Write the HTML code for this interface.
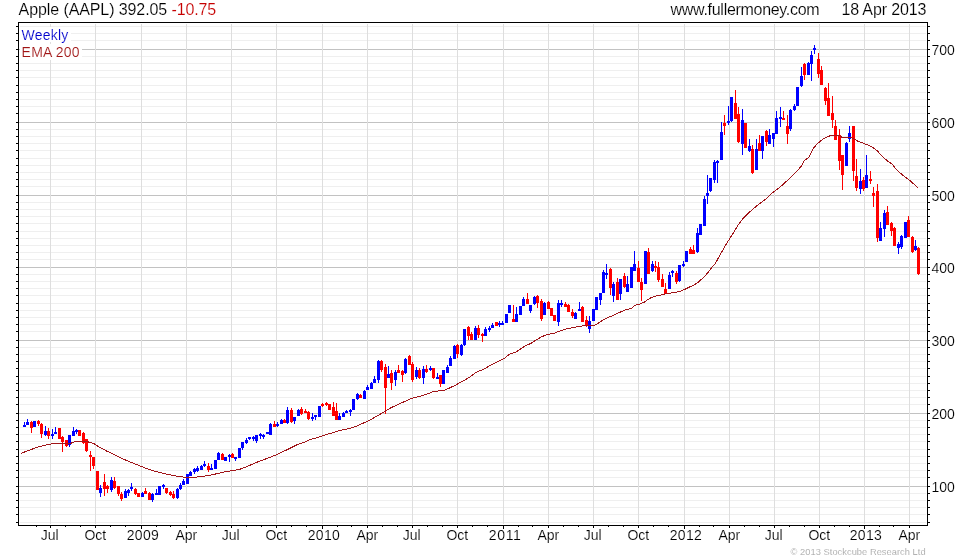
<!DOCTYPE html>
<html lang="en"><head><meta charset="utf-8"><title>Apple (AAPL) Weekly</title>
<style>html,body{margin:0;padding:0;background:#fff}body{width:980px;height:560px;overflow:hidden}svg{display:block;will-change:transform}text{font-family:"Liberation Sans",Arial,sans-serif;stroke:#fff;stroke-width:0.15px}</style>
</head><body>
<svg width="980" height="560" viewBox="0 0 980 560">
<rect width="980" height="560" fill="#fff"/>
<g shape-rendering="crispEdges">
<rect x="20" y="26" width="906" height="1" fill="#efefef"/>
<rect x="20" y="33" width="906" height="1" fill="#efefef"/>
<rect x="20" y="40" width="906" height="1" fill="#efefef"/>
<rect x="20" y="56" width="906" height="1" fill="#efefef"/>
<rect x="20" y="63" width="906" height="1" fill="#efefef"/>
<rect x="20" y="70" width="906" height="1" fill="#efefef"/>
<rect x="20" y="77" width="906" height="1" fill="#efefef"/>
<rect x="20" y="85" width="906" height="1" fill="#efefef"/>
<rect x="20" y="92" width="906" height="1" fill="#efefef"/>
<rect x="20" y="99" width="906" height="1" fill="#efefef"/>
<rect x="20" y="106" width="906" height="1" fill="#efefef"/>
<rect x="20" y="113" width="906" height="1" fill="#efefef"/>
<rect x="20" y="129" width="906" height="1" fill="#efefef"/>
<rect x="20" y="136" width="906" height="1" fill="#efefef"/>
<rect x="20" y="143" width="906" height="1" fill="#efefef"/>
<rect x="20" y="150" width="906" height="1" fill="#efefef"/>
<rect x="20" y="158" width="906" height="1" fill="#efefef"/>
<rect x="20" y="165" width="906" height="1" fill="#efefef"/>
<rect x="20" y="172" width="906" height="1" fill="#efefef"/>
<rect x="20" y="179" width="906" height="1" fill="#efefef"/>
<rect x="20" y="186" width="906" height="1" fill="#efefef"/>
<rect x="20" y="202" width="906" height="1" fill="#efefef"/>
<rect x="20" y="209" width="906" height="1" fill="#efefef"/>
<rect x="20" y="216" width="906" height="1" fill="#efefef"/>
<rect x="20" y="223" width="906" height="1" fill="#efefef"/>
<rect x="20" y="231" width="906" height="1" fill="#efefef"/>
<rect x="20" y="238" width="906" height="1" fill="#efefef"/>
<rect x="20" y="245" width="906" height="1" fill="#efefef"/>
<rect x="20" y="252" width="906" height="1" fill="#efefef"/>
<rect x="20" y="259" width="906" height="1" fill="#efefef"/>
<rect x="20" y="274" width="906" height="1" fill="#efefef"/>
<rect x="20" y="281" width="906" height="1" fill="#efefef"/>
<rect x="20" y="288" width="906" height="1" fill="#efefef"/>
<rect x="20" y="295" width="906" height="1" fill="#efefef"/>
<rect x="20" y="303" width="906" height="1" fill="#efefef"/>
<rect x="20" y="310" width="906" height="1" fill="#efefef"/>
<rect x="20" y="317" width="906" height="1" fill="#efefef"/>
<rect x="20" y="324" width="906" height="1" fill="#efefef"/>
<rect x="20" y="331" width="906" height="1" fill="#efefef"/>
<rect x="20" y="347" width="906" height="1" fill="#efefef"/>
<rect x="20" y="354" width="906" height="1" fill="#efefef"/>
<rect x="20" y="361" width="906" height="1" fill="#efefef"/>
<rect x="20" y="368" width="906" height="1" fill="#efefef"/>
<rect x="20" y="376" width="906" height="1" fill="#efefef"/>
<rect x="20" y="383" width="906" height="1" fill="#efefef"/>
<rect x="20" y="390" width="906" height="1" fill="#efefef"/>
<rect x="20" y="397" width="906" height="1" fill="#efefef"/>
<rect x="20" y="404" width="906" height="1" fill="#efefef"/>
<rect x="20" y="420" width="906" height="1" fill="#efefef"/>
<rect x="20" y="427" width="906" height="1" fill="#efefef"/>
<rect x="20" y="434" width="906" height="1" fill="#efefef"/>
<rect x="20" y="441" width="906" height="1" fill="#efefef"/>
<rect x="20" y="449" width="906" height="1" fill="#efefef"/>
<rect x="20" y="456" width="906" height="1" fill="#efefef"/>
<rect x="20" y="463" width="906" height="1" fill="#efefef"/>
<rect x="20" y="470" width="906" height="1" fill="#efefef"/>
<rect x="20" y="477" width="906" height="1" fill="#efefef"/>
<rect x="20" y="493" width="906" height="1" fill="#efefef"/>
<rect x="20" y="500" width="906" height="1" fill="#efefef"/>
<rect x="20" y="507" width="906" height="1" fill="#efefef"/>
<rect x="20" y="514" width="906" height="1" fill="#efefef"/>
<rect x="20" y="522" width="906" height="1" fill="#efefef"/>
<rect x="19" y="49" width="908" height="1" fill="#c2c2c2"/>
<rect x="19" y="122" width="908" height="1" fill="#c2c2c2"/>
<rect x="19" y="195" width="908" height="1" fill="#c2c2c2"/>
<rect x="19" y="267" width="908" height="1" fill="#c2c2c2"/>
<rect x="19" y="340" width="908" height="1" fill="#c2c2c2"/>
<rect x="19" y="413" width="908" height="1" fill="#c2c2c2"/>
<rect x="19" y="486" width="908" height="1" fill="#c2c2c2"/>
<rect x="50" y="24" width="1" height="500" fill="#dedede"/>
<rect x="95" y="24" width="1" height="500" fill="#dedede"/>
<rect x="141" y="24" width="1" height="500" fill="#dedede"/>
<rect x="186" y="24" width="1" height="500" fill="#dedede"/>
<rect x="231" y="24" width="1" height="500" fill="#dedede"/>
<rect x="276" y="24" width="1" height="500" fill="#dedede"/>
<rect x="322" y="24" width="1" height="500" fill="#dedede"/>
<rect x="367" y="24" width="1" height="500" fill="#dedede"/>
<rect x="412" y="24" width="1" height="500" fill="#dedede"/>
<rect x="457" y="24" width="1" height="500" fill="#dedede"/>
<rect x="503" y="24" width="1" height="500" fill="#dedede"/>
<rect x="548" y="24" width="1" height="500" fill="#dedede"/>
<rect x="593" y="24" width="1" height="500" fill="#dedede"/>
<rect x="638" y="24" width="1" height="500" fill="#dedede"/>
<rect x="684" y="24" width="1" height="500" fill="#dedede"/>
<rect x="729" y="24" width="1" height="500" fill="#dedede"/>
<rect x="774" y="24" width="1" height="500" fill="#dedede"/>
<rect x="819" y="24" width="1" height="500" fill="#dedede"/>
<rect x="864" y="24" width="1" height="500" fill="#dedede"/>
<rect x="909" y="24" width="1" height="500" fill="#dedede"/>
<rect x="20" y="27" width="51" height="15" fill="#fff"/>
<rect x="20" y="44" width="62" height="16" fill="#fff"/>
</g>
<g shape-rendering="crispEdges">
<rect x="24" y="422" width="1" height="5" fill="#0000ff"/>
<rect x="23" y="425" width="3" height="2" fill="#0000ff"/>
<rect x="27" y="419" width="1" height="6" fill="#0000ff"/>
<rect x="26" y="422" width="3" height="3" fill="#0000ff"/>
<rect x="31" y="421" width="1" height="12" fill="#ff0000"/>
<rect x="30" y="422" width="3" height="6" fill="#ff0000"/>
<rect x="33" y="421" width="3" height="6" fill="#0000ff"/>
<rect x="38" y="420" width="1" height="6" fill="#ff0000"/>
<rect x="37" y="421" width="3" height="3" fill="#ff0000"/>
<rect x="41" y="423" width="1" height="15" fill="#ff0000"/>
<rect x="40" y="424" width="3" height="10" fill="#ff0000"/>
<rect x="45" y="426" width="1" height="10" fill="#0000ff"/>
<rect x="44" y="431" width="3" height="4" fill="#0000ff"/>
<rect x="48" y="428" width="1" height="11" fill="#ff0000"/>
<rect x="47" y="431" width="3" height="5" fill="#ff0000"/>
<rect x="52" y="429" width="1" height="10" fill="#0000ff"/>
<rect x="51" y="434" width="3" height="2" fill="#0000ff"/>
<rect x="55" y="427" width="1" height="7" fill="#0000ff"/>
<rect x="54" y="432" width="3" height="2" fill="#0000ff"/>
<rect x="58" y="428" width="3" height="11" fill="#ff0000"/>
<rect x="62" y="436" width="1" height="16" fill="#ff0000"/>
<rect x="61" y="437" width="3" height="5" fill="#ff0000"/>
<rect x="66" y="440" width="1" height="7" fill="#ff0000"/>
<rect x="65" y="440" width="3" height="6" fill="#ff0000"/>
<rect x="69" y="435" width="1" height="12" fill="#0000ff"/>
<rect x="68" y="435" width="3" height="10" fill="#0000ff"/>
<rect x="73" y="427" width="1" height="9" fill="#0000ff"/>
<rect x="72" y="431" width="3" height="5" fill="#0000ff"/>
<rect x="76" y="429" width="1" height="5" fill="#0000ff"/>
<rect x="75" y="430" width="3" height="2" fill="#0000ff"/>
<rect x="78" y="430" width="3" height="6" fill="#ff0000"/>
<rect x="83" y="432" width="1" height="12" fill="#ff0000"/>
<rect x="82" y="433" width="3" height="10" fill="#ff0000"/>
<rect x="86" y="439" width="1" height="13" fill="#ff0000"/>
<rect x="85" y="439" width="3" height="12" fill="#ff0000"/>
<rect x="90" y="451" width="1" height="20" fill="#ff0000"/>
<rect x="89" y="455" width="3" height="2" fill="#ff0000"/>
<rect x="93" y="457" width="1" height="12" fill="#ff0000"/>
<rect x="92" y="457" width="3" height="9" fill="#ff0000"/>
<rect x="96" y="471" width="3" height="19" fill="#ff0000"/>
<rect x="100" y="485" width="1" height="12" fill="#0000ff"/>
<rect x="99" y="488" width="3" height="5" fill="#0000ff"/>
<rect x="104" y="474" width="1" height="22" fill="#ff0000"/>
<rect x="103" y="482" width="3" height="7" fill="#ff0000"/>
<rect x="107" y="485" width="1" height="8" fill="#ff0000"/>
<rect x="106" y="486" width="3" height="3" fill="#ff0000"/>
<rect x="111" y="477" width="1" height="15" fill="#0000ff"/>
<rect x="110" y="480" width="3" height="10" fill="#0000ff"/>
<rect x="114" y="477" width="1" height="12" fill="#ff0000"/>
<rect x="113" y="481" width="3" height="7" fill="#ff0000"/>
<rect x="118" y="486" width="1" height="10" fill="#ff0000"/>
<rect x="117" y="486" width="3" height="8" fill="#ff0000"/>
<rect x="121" y="492" width="1" height="9" fill="#ff0000"/>
<rect x="120" y="494" width="3" height="5" fill="#ff0000"/>
<rect x="125" y="489" width="1" height="9" fill="#0000ff"/>
<rect x="124" y="491" width="3" height="7" fill="#0000ff"/>
<rect x="128" y="489" width="1" height="7" fill="#0000ff"/>
<rect x="127" y="490" width="3" height="3" fill="#0000ff"/>
<rect x="131" y="483" width="1" height="8" fill="#0000ff"/>
<rect x="130" y="487" width="3" height="2" fill="#0000ff"/>
<rect x="135" y="488" width="1" height="7" fill="#ff0000"/>
<rect x="134" y="489" width="3" height="5" fill="#ff0000"/>
<rect x="137" y="493" width="3" height="4" fill="#ff0000"/>
<rect x="142" y="492" width="1" height="5" fill="#0000ff"/>
<rect x="141" y="493" width="3" height="4" fill="#0000ff"/>
<rect x="145" y="488" width="1" height="6" fill="#ff0000"/>
<rect x="144" y="491" width="3" height="3" fill="#ff0000"/>
<rect x="149" y="492" width="1" height="8" fill="#ff0000"/>
<rect x="148" y="493" width="3" height="7" fill="#ff0000"/>
<rect x="152" y="493" width="1" height="9" fill="#0000ff"/>
<rect x="151" y="494" width="3" height="6" fill="#0000ff"/>
<rect x="156" y="489" width="1" height="6" fill="#0000ff"/>
<rect x="155" y="493" width="3" height="2" fill="#0000ff"/>
<rect x="158" y="486" width="3" height="9" fill="#0000ff"/>
<rect x="163" y="484" width="1" height="5" fill="#0000ff"/>
<rect x="162" y="485" width="3" height="2" fill="#0000ff"/>
<rect x="166" y="488" width="1" height="6" fill="#ff0000"/>
<rect x="165" y="488" width="3" height="5" fill="#ff0000"/>
<rect x="170" y="491" width="1" height="5" fill="#ff0000"/>
<rect x="169" y="492" width="3" height="3" fill="#ff0000"/>
<rect x="173" y="491" width="1" height="8" fill="#ff0000"/>
<rect x="172" y="494" width="3" height="4" fill="#ff0000"/>
<rect x="177" y="488" width="1" height="11" fill="#0000ff"/>
<rect x="176" y="489" width="3" height="9" fill="#0000ff"/>
<rect x="180" y="483" width="1" height="7" fill="#0000ff"/>
<rect x="179" y="485" width="3" height="4" fill="#0000ff"/>
<rect x="183" y="479" width="1" height="6" fill="#0000ff"/>
<rect x="182" y="481" width="3" height="4" fill="#0000ff"/>
<rect x="186" y="474" width="3" height="10" fill="#0000ff"/>
<rect x="190" y="471" width="1" height="5" fill="#0000ff"/>
<rect x="189" y="472" width="3" height="4" fill="#0000ff"/>
<rect x="194" y="468" width="1" height="6" fill="#0000ff"/>
<rect x="193" y="469" width="3" height="3" fill="#0000ff"/>
<rect x="197" y="466" width="1" height="6" fill="#0000ff"/>
<rect x="196" y="468" width="3" height="3" fill="#0000ff"/>
<rect x="201" y="465" width="1" height="5" fill="#0000ff"/>
<rect x="200" y="466" width="3" height="4" fill="#0000ff"/>
<rect x="204" y="461" width="1" height="6" fill="#0000ff"/>
<rect x="203" y="464" width="3" height="2" fill="#0000ff"/>
<rect x="208" y="463" width="1" height="9" fill="#ff0000"/>
<rect x="207" y="466" width="3" height="4" fill="#ff0000"/>
<rect x="211" y="464" width="1" height="6" fill="#0000ff"/>
<rect x="210" y="468" width="3" height="2" fill="#0000ff"/>
<rect x="214" y="460" width="3" height="9" fill="#0000ff"/>
<rect x="218" y="452" width="1" height="8" fill="#0000ff"/>
<rect x="217" y="453" width="3" height="7" fill="#0000ff"/>
<rect x="222" y="453" width="1" height="7" fill="#ff0000"/>
<rect x="221" y="454" width="3" height="6" fill="#ff0000"/>
<rect x="224" y="457" width="3" height="4" fill="#0000ff"/>
<rect x="229" y="454" width="1" height="8" fill="#0000ff"/>
<rect x="228" y="455" width="3" height="2" fill="#0000ff"/>
<rect x="232" y="453" width="1" height="5" fill="#ff0000"/>
<rect x="231" y="454" width="3" height="4" fill="#ff0000"/>
<rect x="235" y="457" width="1" height="4" fill="#0000ff"/>
<rect x="234" y="457" width="3" height="2" fill="#0000ff"/>
<rect x="238" y="448" width="3" height="10" fill="#0000ff"/>
<rect x="242" y="442" width="1" height="8" fill="#0000ff"/>
<rect x="241" y="442" width="3" height="6" fill="#0000ff"/>
<rect x="246" y="438" width="1" height="6" fill="#0000ff"/>
<rect x="245" y="440" width="3" height="3" fill="#0000ff"/>
<rect x="249" y="437" width="1" height="3" fill="#0000ff"/>
<rect x="248" y="437" width="3" height="2" fill="#0000ff"/>
<rect x="253" y="436" width="1" height="5" fill="#0000ff"/>
<rect x="252" y="437" width="3" height="2" fill="#0000ff"/>
<rect x="256" y="435" width="1" height="8" fill="#0000ff"/>
<rect x="255" y="435" width="3" height="6" fill="#0000ff"/>
<rect x="260" y="433" width="1" height="6" fill="#0000ff"/>
<rect x="259" y="434" width="3" height="2" fill="#0000ff"/>
<rect x="263" y="434" width="1" height="5" fill="#0000ff"/>
<rect x="262" y="435" width="3" height="2" fill="#0000ff"/>
<rect x="266" y="432" width="3" height="2" fill="#0000ff"/>
<rect x="270" y="423" width="1" height="12" fill="#0000ff"/>
<rect x="269" y="424" width="3" height="11" fill="#0000ff"/>
<rect x="274" y="421" width="1" height="6" fill="#ff0000"/>
<rect x="273" y="424" width="3" height="3" fill="#ff0000"/>
<rect x="277" y="422" width="1" height="5" fill="#0000ff"/>
<rect x="276" y="424" width="3" height="2" fill="#0000ff"/>
<rect x="281" y="419" width="1" height="5" fill="#0000ff"/>
<rect x="280" y="420" width="3" height="4" fill="#0000ff"/>
<rect x="284" y="419" width="1" height="4" fill="#ff0000"/>
<rect x="283" y="420" width="3" height="3" fill="#ff0000"/>
<rect x="287" y="407" width="1" height="17" fill="#0000ff"/>
<rect x="286" y="410" width="3" height="13" fill="#0000ff"/>
<rect x="291" y="408" width="1" height="15" fill="#ff0000"/>
<rect x="290" y="410" width="3" height="12" fill="#ff0000"/>
<rect x="294" y="417" width="1" height="7" fill="#0000ff"/>
<rect x="293" y="417" width="3" height="4" fill="#0000ff"/>
<rect x="298" y="409" width="1" height="7" fill="#0000ff"/>
<rect x="297" y="410" width="3" height="6" fill="#0000ff"/>
<rect x="301" y="407" width="1" height="8" fill="#ff0000"/>
<rect x="300" y="409" width="3" height="5" fill="#ff0000"/>
<rect x="305" y="409" width="1" height="4" fill="#ff0000"/>
<rect x="304" y="411" width="3" height="2" fill="#ff0000"/>
<rect x="308" y="411" width="1" height="9" fill="#ff0000"/>
<rect x="307" y="412" width="3" height="7" fill="#ff0000"/>
<rect x="312" y="413" width="1" height="8" fill="#0000ff"/>
<rect x="311" y="417" width="3" height="2" fill="#0000ff"/>
<rect x="315" y="415" width="1" height="5" fill="#0000ff"/>
<rect x="314" y="415" width="3" height="2" fill="#0000ff"/>
<rect x="318" y="406" width="3" height="11" fill="#0000ff"/>
<rect x="322" y="403" width="1" height="4" fill="#ff0000"/>
<rect x="321" y="404" width="3" height="2" fill="#ff0000"/>
<rect x="326" y="402" width="1" height="4" fill="#ff0000"/>
<rect x="325" y="403" width="3" height="2" fill="#ff0000"/>
<rect x="328" y="404" width="3" height="6" fill="#ff0000"/>
<rect x="333" y="402" width="1" height="14" fill="#ff0000"/>
<rect x="332" y="407" width="3" height="9" fill="#ff0000"/>
<rect x="336" y="403" width="1" height="17" fill="#ff0000"/>
<rect x="335" y="411" width="3" height="9" fill="#ff0000"/>
<rect x="339" y="413" width="1" height="7" fill="#0000ff"/>
<rect x="338" y="416" width="3" height="4" fill="#0000ff"/>
<rect x="343" y="412" width="1" height="5" fill="#0000ff"/>
<rect x="342" y="413" width="3" height="4" fill="#0000ff"/>
<rect x="346" y="410" width="1" height="3" fill="#0000ff"/>
<rect x="345" y="411" width="3" height="2" fill="#0000ff"/>
<rect x="350" y="409" width="1" height="7" fill="#0000ff"/>
<rect x="349" y="410" width="3" height="2" fill="#0000ff"/>
<rect x="352" y="399" width="3" height="11" fill="#0000ff"/>
<rect x="357" y="393" width="1" height="7" fill="#0000ff"/>
<rect x="356" y="394" width="3" height="5" fill="#0000ff"/>
<rect x="360" y="394" width="1" height="4" fill="#ff0000"/>
<rect x="359" y="395" width="3" height="3" fill="#ff0000"/>
<rect x="364" y="390" width="1" height="9" fill="#0000ff"/>
<rect x="363" y="391" width="3" height="8" fill="#0000ff"/>
<rect x="367" y="385" width="1" height="5" fill="#0000ff"/>
<rect x="366" y="387" width="3" height="3" fill="#0000ff"/>
<rect x="371" y="382" width="1" height="7" fill="#0000ff"/>
<rect x="370" y="383" width="3" height="6" fill="#0000ff"/>
<rect x="374" y="376" width="1" height="7" fill="#0000ff"/>
<rect x="373" y="379" width="3" height="4" fill="#0000ff"/>
<rect x="378" y="360" width="1" height="23" fill="#0000ff"/>
<rect x="377" y="361" width="3" height="19" fill="#0000ff"/>
<rect x="381" y="360" width="1" height="12" fill="#ff0000"/>
<rect x="380" y="361" width="3" height="9" fill="#ff0000"/>
<rect x="385" y="364" width="1" height="50" fill="#ff0000"/>
<rect x="384" y="367" width="3" height="21" fill="#ff0000"/>
<rect x="388" y="366" width="1" height="12" fill="#0000ff"/>
<rect x="387" y="374" width="3" height="4" fill="#0000ff"/>
<rect x="391" y="370" width="1" height="20" fill="#ff0000"/>
<rect x="390" y="373" width="3" height="10" fill="#ff0000"/>
<rect x="395" y="370" width="1" height="16" fill="#0000ff"/>
<rect x="394" y="372" width="3" height="8" fill="#0000ff"/>
<rect x="398" y="365" width="1" height="8" fill="#ff0000"/>
<rect x="397" y="370" width="3" height="3" fill="#ff0000"/>
<rect x="402" y="370" width="1" height="12" fill="#ff0000"/>
<rect x="401" y="371" width="3" height="4" fill="#ff0000"/>
<rect x="405" y="358" width="1" height="16" fill="#0000ff"/>
<rect x="404" y="359" width="3" height="14" fill="#0000ff"/>
<rect x="409" y="355" width="1" height="10" fill="#ff0000"/>
<rect x="408" y="356" width="3" height="9" fill="#ff0000"/>
<rect x="412" y="362" width="1" height="20" fill="#ff0000"/>
<rect x="411" y="364" width="3" height="16" fill="#ff0000"/>
<rect x="416" y="367" width="1" height="12" fill="#0000ff"/>
<rect x="415" y="370" width="3" height="7" fill="#0000ff"/>
<rect x="419" y="368" width="1" height="11" fill="#ff0000"/>
<rect x="418" y="370" width="3" height="8" fill="#ff0000"/>
<rect x="423" y="366" width="1" height="18" fill="#0000ff"/>
<rect x="422" y="369" width="3" height="9" fill="#0000ff"/>
<rect x="426" y="365" width="1" height="8" fill="#ff0000"/>
<rect x="425" y="369" width="3" height="3" fill="#ff0000"/>
<rect x="430" y="366" width="1" height="5" fill="#0000ff"/>
<rect x="429" y="368" width="3" height="2" fill="#0000ff"/>
<rect x="433" y="368" width="1" height="11" fill="#ff0000"/>
<rect x="432" y="368" width="3" height="10" fill="#ff0000"/>
<rect x="437" y="373" width="1" height="6" fill="#0000ff"/>
<rect x="436" y="377" width="3" height="2" fill="#0000ff"/>
<rect x="440" y="375" width="1" height="12" fill="#ff0000"/>
<rect x="439" y="375" width="3" height="9" fill="#ff0000"/>
<rect x="442" y="370" width="3" height="14" fill="#0000ff"/>
<rect x="447" y="365" width="1" height="8" fill="#0000ff"/>
<rect x="446" y="367" width="3" height="6" fill="#0000ff"/>
<rect x="450" y="356" width="1" height="10" fill="#0000ff"/>
<rect x="449" y="358" width="3" height="8" fill="#0000ff"/>
<rect x="454" y="345" width="1" height="14" fill="#0000ff"/>
<rect x="453" y="346" width="3" height="13" fill="#0000ff"/>
<rect x="457" y="344" width="1" height="14" fill="#ff0000"/>
<rect x="456" y="345" width="3" height="9" fill="#ff0000"/>
<rect x="461" y="344" width="1" height="12" fill="#0000ff"/>
<rect x="460" y="345" width="3" height="10" fill="#0000ff"/>
<rect x="464" y="329" width="1" height="17" fill="#0000ff"/>
<rect x="463" y="329" width="3" height="16" fill="#0000ff"/>
<rect x="468" y="326" width="1" height="14" fill="#ff0000"/>
<rect x="467" y="327" width="3" height="9" fill="#ff0000"/>
<rect x="471" y="332" width="1" height="8" fill="#ff0000"/>
<rect x="470" y="334" width="3" height="6" fill="#ff0000"/>
<rect x="475" y="326" width="1" height="14" fill="#0000ff"/>
<rect x="474" y="328" width="3" height="12" fill="#0000ff"/>
<rect x="478" y="325" width="1" height="13" fill="#ff0000"/>
<rect x="477" y="328" width="3" height="7" fill="#ff0000"/>
<rect x="482" y="333" width="1" height="9" fill="#ff0000"/>
<rect x="481" y="334" width="3" height="2" fill="#ff0000"/>
<rect x="485" y="327" width="1" height="9" fill="#0000ff"/>
<rect x="484" y="329" width="3" height="7" fill="#0000ff"/>
<rect x="489" y="326" width="1" height="6" fill="#0000ff"/>
<rect x="488" y="328" width="3" height="2" fill="#0000ff"/>
<rect x="492" y="323" width="1" height="5" fill="#0000ff"/>
<rect x="491" y="325" width="3" height="3" fill="#0000ff"/>
<rect x="495" y="322" width="3" height="4" fill="#ff0000"/>
<rect x="499" y="321" width="1" height="6" fill="#0000ff"/>
<rect x="498" y="323" width="3" height="2" fill="#0000ff"/>
<rect x="502" y="321" width="1" height="4" fill="#0000ff"/>
<rect x="501" y="323" width="3" height="2" fill="#0000ff"/>
<rect x="505" y="314" width="3" height="9" fill="#0000ff"/>
<rect x="508" y="305" width="3" height="8" fill="#0000ff"/>
<rect x="513" y="305" width="1" height="17" fill="#ff0000"/>
<rect x="512" y="319" width="3" height="3" fill="#ff0000"/>
<rect x="516" y="307" width="1" height="15" fill="#0000ff"/>
<rect x="515" y="314" width="3" height="8" fill="#0000ff"/>
<rect x="519" y="306" width="3" height="9" fill="#0000ff"/>
<rect x="523" y="297" width="1" height="9" fill="#0000ff"/>
<rect x="522" y="299" width="3" height="7" fill="#0000ff"/>
<rect x="527" y="293" width="1" height="11" fill="#ff0000"/>
<rect x="526" y="299" width="3" height="5" fill="#ff0000"/>
<rect x="530" y="305" width="1" height="8" fill="#0000ff"/>
<rect x="529" y="305" width="3" height="6" fill="#0000ff"/>
<rect x="534" y="296" width="1" height="9" fill="#0000ff"/>
<rect x="533" y="297" width="3" height="7" fill="#0000ff"/>
<rect x="537" y="295" width="1" height="13" fill="#ff0000"/>
<rect x="536" y="296" width="3" height="7" fill="#ff0000"/>
<rect x="541" y="299" width="1" height="22" fill="#ff0000"/>
<rect x="540" y="301" width="3" height="18" fill="#ff0000"/>
<rect x="544" y="302" width="1" height="13" fill="#0000ff"/>
<rect x="543" y="303" width="3" height="12" fill="#0000ff"/>
<rect x="548" y="301" width="1" height="8" fill="#ff0000"/>
<rect x="547" y="302" width="3" height="7" fill="#ff0000"/>
<rect x="550" y="308" width="3" height="8" fill="#ff0000"/>
<rect x="553" y="315" width="3" height="6" fill="#ff0000"/>
<rect x="558" y="300" width="1" height="26" fill="#0000ff"/>
<rect x="557" y="303" width="3" height="19" fill="#0000ff"/>
<rect x="561" y="300" width="1" height="7" fill="#0000ff"/>
<rect x="560" y="303" width="3" height="2" fill="#0000ff"/>
<rect x="565" y="302" width="1" height="5" fill="#ff0000"/>
<rect x="564" y="304" width="3" height="3" fill="#ff0000"/>
<rect x="568" y="304" width="1" height="8" fill="#ff0000"/>
<rect x="567" y="305" width="3" height="7" fill="#ff0000"/>
<rect x="572" y="309" width="1" height="9" fill="#ff0000"/>
<rect x="571" y="312" width="3" height="4" fill="#ff0000"/>
<rect x="575" y="312" width="1" height="7" fill="#0000ff"/>
<rect x="574" y="313" width="3" height="6" fill="#0000ff"/>
<rect x="579" y="302" width="1" height="9" fill="#0000ff"/>
<rect x="578" y="309" width="3" height="2" fill="#0000ff"/>
<rect x="582" y="306" width="1" height="16" fill="#ff0000"/>
<rect x="581" y="307" width="3" height="15" fill="#ff0000"/>
<rect x="586" y="316" width="1" height="11" fill="#ff0000"/>
<rect x="585" y="320" width="3" height="5" fill="#ff0000"/>
<rect x="589" y="316" width="1" height="17" fill="#0000ff"/>
<rect x="588" y="321" width="3" height="8" fill="#0000ff"/>
<rect x="592" y="309" width="3" height="12" fill="#0000ff"/>
<rect x="595" y="297" width="3" height="13" fill="#0000ff"/>
<rect x="600" y="293" width="1" height="12" fill="#0000ff"/>
<rect x="599" y="293" width="3" height="7" fill="#0000ff"/>
<rect x="603" y="270" width="1" height="23" fill="#0000ff"/>
<rect x="602" y="272" width="3" height="21" fill="#0000ff"/>
<rect x="606" y="264" width="1" height="15" fill="#0000ff"/>
<rect x="605" y="273" width="3" height="2" fill="#0000ff"/>
<rect x="610" y="268" width="1" height="27" fill="#ff0000"/>
<rect x="609" y="269" width="3" height="19" fill="#ff0000"/>
<rect x="613" y="282" width="1" height="20" fill="#0000ff"/>
<rect x="612" y="284" width="3" height="12" fill="#0000ff"/>
<rect x="617" y="278" width="1" height="22" fill="#ff0000"/>
<rect x="616" y="282" width="3" height="18" fill="#ff0000"/>
<rect x="620" y="279" width="1" height="21" fill="#0000ff"/>
<rect x="619" y="279" width="3" height="15" fill="#0000ff"/>
<rect x="624" y="273" width="1" height="15" fill="#ff0000"/>
<rect x="623" y="276" width="3" height="11" fill="#ff0000"/>
<rect x="627" y="276" width="1" height="16" fill="#0000ff"/>
<rect x="626" y="284" width="3" height="8" fill="#0000ff"/>
<rect x="630" y="267" width="3" height="21" fill="#0000ff"/>
<rect x="634" y="251" width="1" height="20" fill="#0000ff"/>
<rect x="633" y="264" width="3" height="7" fill="#0000ff"/>
<rect x="638" y="261" width="1" height="21" fill="#ff0000"/>
<rect x="637" y="268" width="3" height="14" fill="#ff0000"/>
<rect x="641" y="278" width="1" height="23" fill="#ff0000"/>
<rect x="640" y="282" width="3" height="8" fill="#ff0000"/>
<rect x="644" y="251" width="3" height="33" fill="#0000ff"/>
<rect x="648" y="248" width="1" height="26" fill="#ff0000"/>
<rect x="647" y="252" width="3" height="22" fill="#ff0000"/>
<rect x="652" y="261" width="1" height="11" fill="#0000ff"/>
<rect x="651" y="264" width="3" height="7" fill="#0000ff"/>
<rect x="655" y="261" width="1" height="11" fill="#ff0000"/>
<rect x="654" y="266" width="3" height="2" fill="#ff0000"/>
<rect x="658" y="262" width="1" height="20" fill="#ff0000"/>
<rect x="657" y="267" width="3" height="13" fill="#ff0000"/>
<rect x="662" y="274" width="1" height="13" fill="#ff0000"/>
<rect x="661" y="279" width="3" height="8" fill="#ff0000"/>
<rect x="665" y="283" width="1" height="11" fill="#ff0000"/>
<rect x="664" y="289" width="3" height="5" fill="#ff0000"/>
<rect x="669" y="272" width="1" height="17" fill="#0000ff"/>
<rect x="668" y="275" width="3" height="14" fill="#0000ff"/>
<rect x="672" y="270" width="1" height="7" fill="#0000ff"/>
<rect x="671" y="271" width="3" height="2" fill="#0000ff"/>
<rect x="676" y="271" width="1" height="13" fill="#ff0000"/>
<rect x="675" y="273" width="3" height="9" fill="#ff0000"/>
<rect x="679" y="265" width="1" height="17" fill="#0000ff"/>
<rect x="678" y="265" width="3" height="16" fill="#0000ff"/>
<rect x="683" y="261" width="1" height="6" fill="#0000ff"/>
<rect x="682" y="264" width="3" height="2" fill="#0000ff"/>
<rect x="685" y="251" width="3" height="11" fill="#0000ff"/>
<rect x="690" y="247" width="1" height="7" fill="#ff0000"/>
<rect x="689" y="249" width="3" height="5" fill="#ff0000"/>
<rect x="693" y="245" width="1" height="9" fill="#ff0000"/>
<rect x="692" y="250" width="3" height="4" fill="#ff0000"/>
<rect x="697" y="228" width="1" height="25" fill="#0000ff"/>
<rect x="696" y="233" width="3" height="19" fill="#0000ff"/>
<rect x="699" y="224" width="3" height="11" fill="#0000ff"/>
<rect x="704" y="196" width="1" height="30" fill="#0000ff"/>
<rect x="703" y="199" width="3" height="27" fill="#0000ff"/>
<rect x="707" y="175" width="1" height="29" fill="#0000ff"/>
<rect x="706" y="193" width="3" height="3" fill="#0000ff"/>
<rect x="710" y="178" width="1" height="14" fill="#0000ff"/>
<rect x="709" y="178" width="3" height="13" fill="#0000ff"/>
<rect x="714" y="160" width="1" height="23" fill="#0000ff"/>
<rect x="713" y="162" width="3" height="18" fill="#0000ff"/>
<rect x="717" y="160" width="1" height="23" fill="#0000ff"/>
<rect x="716" y="161" width="3" height="2" fill="#0000ff"/>
<rect x="721" y="122" width="1" height="38" fill="#0000ff"/>
<rect x="720" y="132" width="3" height="28" fill="#0000ff"/>
<rect x="724" y="115" width="1" height="20" fill="#ff0000"/>
<rect x="723" y="123" width="3" height="3" fill="#ff0000"/>
<rect x="728" y="106" width="1" height="19" fill="#0000ff"/>
<rect x="727" y="121" width="3" height="2" fill="#0000ff"/>
<rect x="731" y="97" width="1" height="25" fill="#0000ff"/>
<rect x="730" y="97" width="3" height="24" fill="#0000ff"/>
<rect x="735" y="90" width="1" height="29" fill="#ff0000"/>
<rect x="734" y="103" width="3" height="16" fill="#ff0000"/>
<rect x="738" y="107" width="1" height="36" fill="#ff0000"/>
<rect x="737" y="114" width="3" height="28" fill="#ff0000"/>
<rect x="742" y="109" width="1" height="46" fill="#0000ff"/>
<rect x="741" y="120" width="3" height="24" fill="#0000ff"/>
<rect x="744" y="123" width="3" height="25" fill="#ff0000"/>
<rect x="749" y="139" width="1" height="13" fill="#0000ff"/>
<rect x="748" y="146" width="3" height="5" fill="#0000ff"/>
<rect x="752" y="145" width="1" height="29" fill="#ff0000"/>
<rect x="751" y="149" width="3" height="24" fill="#ff0000"/>
<rect x="756" y="139" width="1" height="31" fill="#0000ff"/>
<rect x="755" y="149" width="3" height="21" fill="#0000ff"/>
<rect x="759" y="135" width="1" height="16" fill="#ff0000"/>
<rect x="758" y="143" width="3" height="8" fill="#ff0000"/>
<rect x="762" y="136" width="1" height="23" fill="#0000ff"/>
<rect x="761" y="136" width="3" height="15" fill="#0000ff"/>
<rect x="766" y="130" width="1" height="16" fill="#ff0000"/>
<rect x="765" y="131" width="3" height="11" fill="#ff0000"/>
<rect x="769" y="129" width="1" height="15" fill="#0000ff"/>
<rect x="768" y="135" width="3" height="9" fill="#0000ff"/>
<rect x="773" y="133" width="1" height="14" fill="#0000ff"/>
<rect x="772" y="133" width="3" height="6" fill="#0000ff"/>
<rect x="776" y="111" width="1" height="23" fill="#0000ff"/>
<rect x="775" y="118" width="3" height="16" fill="#0000ff"/>
<rect x="780" y="107" width="1" height="20" fill="#0000ff"/>
<rect x="779" y="117" width="3" height="2" fill="#0000ff"/>
<rect x="783" y="111" width="1" height="9" fill="#ff0000"/>
<rect x="782" y="118" width="3" height="2" fill="#ff0000"/>
<rect x="787" y="115" width="1" height="29" fill="#ff0000"/>
<rect x="786" y="126" width="3" height="8" fill="#ff0000"/>
<rect x="790" y="109" width="1" height="22" fill="#0000ff"/>
<rect x="789" y="110" width="3" height="19" fill="#0000ff"/>
<rect x="794" y="104" width="1" height="7" fill="#0000ff"/>
<rect x="793" y="106" width="3" height="4" fill="#0000ff"/>
<rect x="796" y="87" width="3" height="19" fill="#0000ff"/>
<rect x="801" y="67" width="1" height="20" fill="#0000ff"/>
<rect x="800" y="76" width="3" height="10" fill="#0000ff"/>
<rect x="804" y="63" width="1" height="17" fill="#ff0000"/>
<rect x="803" y="64" width="3" height="11" fill="#ff0000"/>
<rect x="808" y="62" width="1" height="13" fill="#0000ff"/>
<rect x="807" y="63" width="3" height="12" fill="#0000ff"/>
<rect x="811" y="51" width="1" height="30" fill="#0000ff"/>
<rect x="810" y="55" width="3" height="9" fill="#0000ff"/>
<rect x="814" y="45" width="1" height="9" fill="#0000ff"/>
<rect x="813" y="48" width="3" height="2" fill="#0000ff"/>
<rect x="818" y="53" width="1" height="25" fill="#ff0000"/>
<rect x="817" y="59" width="3" height="15" fill="#ff0000"/>
<rect x="821" y="66" width="1" height="19" fill="#ff0000"/>
<rect x="820" y="70" width="3" height="15" fill="#ff0000"/>
<rect x="825" y="87" width="1" height="18" fill="#ff0000"/>
<rect x="824" y="88" width="3" height="13" fill="#ff0000"/>
<rect x="828" y="83" width="1" height="33" fill="#ff0000"/>
<rect x="827" y="98" width="3" height="18" fill="#ff0000"/>
<rect x="832" y="96" width="1" height="32" fill="#ff0000"/>
<rect x="831" y="113" width="3" height="7" fill="#ff0000"/>
<rect x="835" y="120" width="1" height="20" fill="#ff0000"/>
<rect x="834" y="126" width="3" height="14" fill="#ff0000"/>
<rect x="839" y="129" width="1" height="41" fill="#ff0000"/>
<rect x="838" y="135" width="3" height="26" fill="#ff0000"/>
<rect x="842" y="155" width="1" height="35" fill="#ff0000"/>
<rect x="841" y="155" width="3" height="20" fill="#ff0000"/>
<rect x="846" y="142" width="1" height="24" fill="#0000ff"/>
<rect x="845" y="143" width="3" height="23" fill="#0000ff"/>
<rect x="849" y="126" width="1" height="16" fill="#0000ff"/>
<rect x="848" y="133" width="3" height="6" fill="#0000ff"/>
<rect x="853" y="126" width="1" height="55" fill="#ff0000"/>
<rect x="852" y="126" width="3" height="45" fill="#ff0000"/>
<rect x="856" y="159" width="1" height="32" fill="#ff0000"/>
<rect x="855" y="176" width="3" height="12" fill="#ff0000"/>
<rect x="860" y="169" width="1" height="25" fill="#0000ff"/>
<rect x="859" y="181" width="3" height="8" fill="#0000ff"/>
<rect x="863" y="177" width="1" height="14" fill="#ff0000"/>
<rect x="862" y="180" width="3" height="9" fill="#ff0000"/>
<rect x="866" y="155" width="1" height="33" fill="#0000ff"/>
<rect x="865" y="175" width="3" height="13" fill="#0000ff"/>
<rect x="870" y="171" width="1" height="13" fill="#ff0000"/>
<rect x="869" y="179" width="3" height="2" fill="#ff0000"/>
<rect x="873" y="187" width="1" height="20" fill="#ff0000"/>
<rect x="872" y="193" width="3" height="3" fill="#ff0000"/>
<rect x="877" y="184" width="1" height="58" fill="#ff0000"/>
<rect x="876" y="191" width="3" height="47" fill="#ff0000"/>
<rect x="880" y="222" width="1" height="19" fill="#0000ff"/>
<rect x="879" y="228" width="3" height="13" fill="#0000ff"/>
<rect x="884" y="210" width="1" height="27" fill="#0000ff"/>
<rect x="883" y="213" width="3" height="16" fill="#0000ff"/>
<rect x="887" y="206" width="1" height="19" fill="#ff0000"/>
<rect x="886" y="212" width="3" height="13" fill="#ff0000"/>
<rect x="891" y="222" width="1" height="14" fill="#ff0000"/>
<rect x="890" y="223" width="3" height="8" fill="#ff0000"/>
<rect x="894" y="227" width="1" height="19" fill="#ff0000"/>
<rect x="893" y="228" width="3" height="18" fill="#ff0000"/>
<rect x="898" y="242" width="1" height="12" fill="#0000ff"/>
<rect x="897" y="244" width="3" height="4" fill="#0000ff"/>
<rect x="901" y="235" width="1" height="14" fill="#0000ff"/>
<rect x="900" y="236" width="3" height="11" fill="#0000ff"/>
<rect x="904" y="222" width="3" height="16" fill="#0000ff"/>
<rect x="908" y="216" width="1" height="21" fill="#ff0000"/>
<rect x="907" y="220" width="3" height="17" fill="#ff0000"/>
<rect x="912" y="236" width="1" height="17" fill="#ff0000"/>
<rect x="911" y="237" width="3" height="15" fill="#ff0000"/>
<rect x="915" y="240" width="1" height="11" fill="#0000ff"/>
<rect x="914" y="246" width="3" height="4" fill="#0000ff"/>
<rect x="918" y="247" width="1" height="28" fill="#ff0000"/>
<rect x="917" y="248" width="3" height="26" fill="#ff0000"/>
</g>
<polyline points="20.9,453.4 36.4,447.5 48.6,444.3 54.3,443.5 70.5,443.5 74.5,441.6 87.0,441.6 90.0,442.4 94.3,443.9 95.7,445.0 106.4,450.9 117.1,456.2 127.9,461.1 138.6,465.4 149.3,469.6 160.0,472.6 170.7,475.0 181.4,476.9 187.0,477.4 192.0,477.4 201.4,476.6 212.1,474.8 222.9,472.3 231.4,470.7 238.9,469.6 244.3,467.7 255.0,463.0 265.7,458.9 275.0,455.4 282.1,452.1 289.3,448.6 296.4,445.0 303.6,442.5 310.7,439.3 317.9,437.5 325.0,435.0 332.1,432.9 339.3,430.7 345.0,429.3 350.0,428.4 357.1,425.9 364.3,422.7 370.0,420.1 379.5,414.6 386.1,410.7 391.4,407.5 402.1,402.7 410.7,398.7 418.2,396.8 425.7,394.6 433.2,391.6 445.0,390.1 451.4,387.1 455.0,385.4 462.1,381.4 469.3,377.5 476.4,372.1 483.6,369.3 490.7,365.0 497.9,361.4 505.0,357.9 509.3,354.3 515.7,352.1 519.3,350.0 525.4,345.5 530.7,343.6 536.5,339.7 542.0,336.6 548.0,334.3 553.6,333.4 558.9,331.4 564.3,329.5 569.6,328.2 575.0,327.1 580.4,326.3 585.7,325.5 594.3,325.3 597.1,323.9 604.3,319.3 611.4,316.1 618.6,312.9 625.7,309.6 631.4,308.6 634.3,305.4 640.0,303.9 644.3,302.1 647.1,300.0 651.4,297.5 655.7,296.1 660.0,295.4 664.6,294.1 670.0,293.2 675.4,292.4 680.0,291.4 684.3,289.6 688.6,287.5 692.9,285.4 697.1,283.2 701.4,279.3 705.0,276.1 708.6,271.8 712.1,267.1 715.7,262.9 718.6,257.5 722.1,251.4 725.7,245.0 729.3,239.3 732.9,233.6 738.9,223.9 744.3,217.0 749.6,212.1 755.0,207.3 760.4,203.0 765.7,199.1 770.0,194.8 775.0,190.9 780.4,186.8 785.7,182.0 791.1,177.1 796.4,171.8 801.8,165.4 803.9,160.9 809.3,157.0 811.5,152.0 814.0,147.5 817.9,143.2 823.2,138.9 828.6,136.2 831.8,135.5 839.3,135.5 842.5,137.6 852.1,137.9 858.6,141.6 864.3,143.6 868.6,145.4 872.9,147.5 877.1,150.7 881.4,155.4 885.0,158.9 888.6,161.8 892.1,163.9 895.7,168.6 899.3,172.1 902.9,175.4 906.4,177.9 910.0,180.7 914.3,184.5 918.0,187.7" fill="none" stroke="#a01418" stroke-width="1" stroke-linejoin="round" shape-rendering="crispEdges"/>
<g shape-rendering="crispEdges" fill="#000">
<rect x="18" y="22" width="910" height="1"/>
<rect x="18" y="525" width="910" height="1"/>
<rect x="18" y="22" width="1" height="504"/>
<rect x="927" y="22" width="1" height="504"/>
<rect x="16" y="26" width="2" height="1"/><rect x="928" y="26" width="2" height="1"/>
<rect x="16" y="33" width="2" height="1"/><rect x="928" y="33" width="2" height="1"/>
<rect x="16" y="40" width="2" height="1"/><rect x="928" y="40" width="2" height="1"/>
<rect x="16" y="56" width="2" height="1"/><rect x="928" y="56" width="2" height="1"/>
<rect x="16" y="63" width="2" height="1"/><rect x="928" y="63" width="2" height="1"/>
<rect x="16" y="70" width="2" height="1"/><rect x="928" y="70" width="2" height="1"/>
<rect x="16" y="77" width="2" height="1"/><rect x="928" y="77" width="2" height="1"/>
<rect x="16" y="85" width="2" height="1"/><rect x="928" y="85" width="2" height="1"/>
<rect x="16" y="92" width="2" height="1"/><rect x="928" y="92" width="2" height="1"/>
<rect x="16" y="99" width="2" height="1"/><rect x="928" y="99" width="2" height="1"/>
<rect x="16" y="106" width="2" height="1"/><rect x="928" y="106" width="2" height="1"/>
<rect x="16" y="113" width="2" height="1"/><rect x="928" y="113" width="2" height="1"/>
<rect x="16" y="129" width="2" height="1"/><rect x="928" y="129" width="2" height="1"/>
<rect x="16" y="136" width="2" height="1"/><rect x="928" y="136" width="2" height="1"/>
<rect x="16" y="143" width="2" height="1"/><rect x="928" y="143" width="2" height="1"/>
<rect x="16" y="150" width="2" height="1"/><rect x="928" y="150" width="2" height="1"/>
<rect x="16" y="158" width="2" height="1"/><rect x="928" y="158" width="2" height="1"/>
<rect x="16" y="165" width="2" height="1"/><rect x="928" y="165" width="2" height="1"/>
<rect x="16" y="172" width="2" height="1"/><rect x="928" y="172" width="2" height="1"/>
<rect x="16" y="179" width="2" height="1"/><rect x="928" y="179" width="2" height="1"/>
<rect x="16" y="186" width="2" height="1"/><rect x="928" y="186" width="2" height="1"/>
<rect x="16" y="202" width="2" height="1"/><rect x="928" y="202" width="2" height="1"/>
<rect x="16" y="209" width="2" height="1"/><rect x="928" y="209" width="2" height="1"/>
<rect x="16" y="216" width="2" height="1"/><rect x="928" y="216" width="2" height="1"/>
<rect x="16" y="223" width="2" height="1"/><rect x="928" y="223" width="2" height="1"/>
<rect x="16" y="231" width="2" height="1"/><rect x="928" y="231" width="2" height="1"/>
<rect x="16" y="238" width="2" height="1"/><rect x="928" y="238" width="2" height="1"/>
<rect x="16" y="245" width="2" height="1"/><rect x="928" y="245" width="2" height="1"/>
<rect x="16" y="252" width="2" height="1"/><rect x="928" y="252" width="2" height="1"/>
<rect x="16" y="259" width="2" height="1"/><rect x="928" y="259" width="2" height="1"/>
<rect x="16" y="274" width="2" height="1"/><rect x="928" y="274" width="2" height="1"/>
<rect x="16" y="281" width="2" height="1"/><rect x="928" y="281" width="2" height="1"/>
<rect x="16" y="288" width="2" height="1"/><rect x="928" y="288" width="2" height="1"/>
<rect x="16" y="295" width="2" height="1"/><rect x="928" y="295" width="2" height="1"/>
<rect x="16" y="303" width="2" height="1"/><rect x="928" y="303" width="2" height="1"/>
<rect x="16" y="310" width="2" height="1"/><rect x="928" y="310" width="2" height="1"/>
<rect x="16" y="317" width="2" height="1"/><rect x="928" y="317" width="2" height="1"/>
<rect x="16" y="324" width="2" height="1"/><rect x="928" y="324" width="2" height="1"/>
<rect x="16" y="331" width="2" height="1"/><rect x="928" y="331" width="2" height="1"/>
<rect x="16" y="347" width="2" height="1"/><rect x="928" y="347" width="2" height="1"/>
<rect x="16" y="354" width="2" height="1"/><rect x="928" y="354" width="2" height="1"/>
<rect x="16" y="361" width="2" height="1"/><rect x="928" y="361" width="2" height="1"/>
<rect x="16" y="368" width="2" height="1"/><rect x="928" y="368" width="2" height="1"/>
<rect x="16" y="376" width="2" height="1"/><rect x="928" y="376" width="2" height="1"/>
<rect x="16" y="383" width="2" height="1"/><rect x="928" y="383" width="2" height="1"/>
<rect x="16" y="390" width="2" height="1"/><rect x="928" y="390" width="2" height="1"/>
<rect x="16" y="397" width="2" height="1"/><rect x="928" y="397" width="2" height="1"/>
<rect x="16" y="404" width="2" height="1"/><rect x="928" y="404" width="2" height="1"/>
<rect x="16" y="420" width="2" height="1"/><rect x="928" y="420" width="2" height="1"/>
<rect x="16" y="427" width="2" height="1"/><rect x="928" y="427" width="2" height="1"/>
<rect x="16" y="434" width="2" height="1"/><rect x="928" y="434" width="2" height="1"/>
<rect x="16" y="441" width="2" height="1"/><rect x="928" y="441" width="2" height="1"/>
<rect x="16" y="449" width="2" height="1"/><rect x="928" y="449" width="2" height="1"/>
<rect x="16" y="456" width="2" height="1"/><rect x="928" y="456" width="2" height="1"/>
<rect x="16" y="463" width="2" height="1"/><rect x="928" y="463" width="2" height="1"/>
<rect x="16" y="470" width="2" height="1"/><rect x="928" y="470" width="2" height="1"/>
<rect x="16" y="477" width="2" height="1"/><rect x="928" y="477" width="2" height="1"/>
<rect x="16" y="493" width="2" height="1"/><rect x="928" y="493" width="2" height="1"/>
<rect x="16" y="500" width="2" height="1"/><rect x="928" y="500" width="2" height="1"/>
<rect x="16" y="507" width="2" height="1"/><rect x="928" y="507" width="2" height="1"/>
<rect x="16" y="514" width="2" height="1"/><rect x="928" y="514" width="2" height="1"/>
<rect x="16" y="522" width="2" height="1"/><rect x="928" y="522" width="2" height="1"/>
<rect x="16" y="49" width="2" height="1"/><rect x="928" y="49" width="2" height="1"/>
<rect x="16" y="122" width="2" height="1"/><rect x="928" y="122" width="2" height="1"/>
<rect x="16" y="195" width="2" height="1"/><rect x="928" y="195" width="2" height="1"/>
<rect x="16" y="267" width="2" height="1"/><rect x="928" y="267" width="2" height="1"/>
<rect x="16" y="340" width="2" height="1"/><rect x="928" y="340" width="2" height="1"/>
<rect x="16" y="413" width="2" height="1"/><rect x="928" y="413" width="2" height="1"/>
<rect x="16" y="486" width="2" height="1"/><rect x="928" y="486" width="2" height="1"/>
<rect x="50" y="526" width="1" height="2"/>
<rect x="65" y="526" width="1" height="1"/>
<rect x="80" y="526" width="1" height="1"/>
<rect x="95" y="526" width="1" height="2"/>
<rect x="110" y="526" width="1" height="1"/>
<rect x="125" y="526" width="1" height="1"/>
<rect x="141" y="526" width="1" height="3"/>
<rect x="156" y="526" width="1" height="1"/>
<rect x="170" y="526" width="1" height="1"/>
<rect x="186" y="526" width="1" height="2"/>
<rect x="201" y="526" width="1" height="1"/>
<rect x="216" y="526" width="1" height="1"/>
<rect x="231" y="526" width="1" height="2"/>
<rect x="246" y="526" width="1" height="1"/>
<rect x="261" y="526" width="1" height="1"/>
<rect x="276" y="526" width="1" height="2"/>
<rect x="291" y="526" width="1" height="1"/>
<rect x="306" y="526" width="1" height="1"/>
<rect x="322" y="526" width="1" height="3"/>
<rect x="337" y="526" width="1" height="1"/>
<rect x="351" y="526" width="1" height="1"/>
<rect x="367" y="526" width="1" height="2"/>
<rect x="382" y="526" width="1" height="1"/>
<rect x="397" y="526" width="1" height="1"/>
<rect x="412" y="526" width="1" height="2"/>
<rect x="427" y="526" width="1" height="1"/>
<rect x="442" y="526" width="1" height="1"/>
<rect x="457" y="526" width="1" height="2"/>
<rect x="472" y="526" width="1" height="1"/>
<rect x="487" y="526" width="1" height="1"/>
<rect x="503" y="526" width="1" height="3"/>
<rect x="518" y="526" width="1" height="1"/>
<rect x="532" y="526" width="1" height="1"/>
<rect x="548" y="526" width="1" height="2"/>
<rect x="563" y="526" width="1" height="1"/>
<rect x="578" y="526" width="1" height="1"/>
<rect x="593" y="526" width="1" height="2"/>
<rect x="608" y="526" width="1" height="1"/>
<rect x="623" y="526" width="1" height="1"/>
<rect x="638" y="526" width="1" height="2"/>
<rect x="653" y="526" width="1" height="1"/>
<rect x="668" y="526" width="1" height="1"/>
<rect x="684" y="526" width="1" height="3"/>
<rect x="699" y="526" width="1" height="1"/>
<rect x="713" y="526" width="1" height="1"/>
<rect x="729" y="526" width="1" height="2"/>
<rect x="744" y="526" width="1" height="1"/>
<rect x="759" y="526" width="1" height="1"/>
<rect x="774" y="526" width="1" height="2"/>
<rect x="789" y="526" width="1" height="1"/>
<rect x="804" y="526" width="1" height="1"/>
<rect x="819" y="526" width="1" height="2"/>
<rect x="834" y="526" width="1" height="1"/>
<rect x="849" y="526" width="1" height="1"/>
<rect x="864" y="526" width="1" height="3"/>
<rect x="879" y="526" width="1" height="1"/>
<rect x="893" y="526" width="1" height="1"/>
<rect x="909" y="526" width="1" height="2"/>
<rect x="36" y="526" width="1" height="1"/>
</g>
<g font-size="16px" fill="#000">
<text x="18.6" y="14.5" textLength="148.6" lengthAdjust="spacing">Apple (AAPL) 392.05</text>
<text x="171.6" y="14.5" textLength="44.6" lengthAdjust="spacing" fill="#c60000">-10.75</text>
<text x="670.6" y="14.5" textLength="149" lengthAdjust="spacing">www.fullermoney.com</text>
<text x="841.4" y="14.5" textLength="85" lengthAdjust="spacing">18 Apr 2013</text>
</g>
<g font-size="14px">
<text x="21.6" y="40" textLength="46.6" lengthAdjust="spacing" fill="#0000cd">Weekly</text>
<text x="21.6" y="57" textLength="58" lengthAdjust="spacing" fill="#a01414">EMA 200</text>
<text x="931.5" y="55" textLength="23.4" lengthAdjust="spacing" fill="#000">700</text>
<text x="931.5" y="128" textLength="23.4" lengthAdjust="spacing" fill="#000">600</text>
<text x="931.5" y="201" textLength="23.4" lengthAdjust="spacing" fill="#000">500</text>
<text x="931.5" y="273" textLength="23.4" lengthAdjust="spacing" fill="#000">400</text>
<text x="931.5" y="346" textLength="23.4" lengthAdjust="spacing" fill="#000">300</text>
<text x="931.5" y="419" textLength="23.4" lengthAdjust="spacing" fill="#000">200</text>
<text x="931.5" y="492" textLength="23.4" lengthAdjust="spacing" fill="#000">100</text>
<text x="49.7" y="540" text-anchor="middle" fill="#000">Jul</text>
<text x="95.3" y="540" text-anchor="middle" fill="#000">Oct</text>
<text x="126.80000000000001" y="540" textLength="32" lengthAdjust="spacing" fill="#000">2009</text>
<text x="186.3" y="540" text-anchor="middle" fill="#000">Apr</text>
<text x="230.7" y="540" text-anchor="middle" fill="#000">Jul</text>
<text x="276.3" y="540" text-anchor="middle" fill="#000">Oct</text>
<text x="307.8" y="540" textLength="32" lengthAdjust="spacing" fill="#000">2010</text>
<text x="367.3" y="540" text-anchor="middle" fill="#000">Apr</text>
<text x="411.7" y="540" text-anchor="middle" fill="#000">Jul</text>
<text x="457.3" y="540" text-anchor="middle" fill="#000">Oct</text>
<text x="488.8" y="540" textLength="32" lengthAdjust="spacing" fill="#000">2011</text>
<text x="548.3" y="540" text-anchor="middle" fill="#000">Apr</text>
<text x="592.7" y="540" text-anchor="middle" fill="#000">Jul</text>
<text x="638.3" y="540" text-anchor="middle" fill="#000">Oct</text>
<text x="669.8" y="540" textLength="32" lengthAdjust="spacing" fill="#000">2012</text>
<text x="729.3" y="540" text-anchor="middle" fill="#000">Apr</text>
<text x="773.7" y="540" text-anchor="middle" fill="#000">Jul</text>
<text x="819.3" y="540" text-anchor="middle" fill="#000">Oct</text>
<text x="849.8" y="540" textLength="32" lengthAdjust="spacing" fill="#000">2013</text>
<text x="909.3" y="540" text-anchor="middle" fill="#000">Apr</text>
</g>
<text x="790.6" y="555" font-size="9.3px" textLength="135" lengthAdjust="spacing" fill="#9a9a9a">© 2013 Stockcube Research Ltd</text>
</svg></body></html>
